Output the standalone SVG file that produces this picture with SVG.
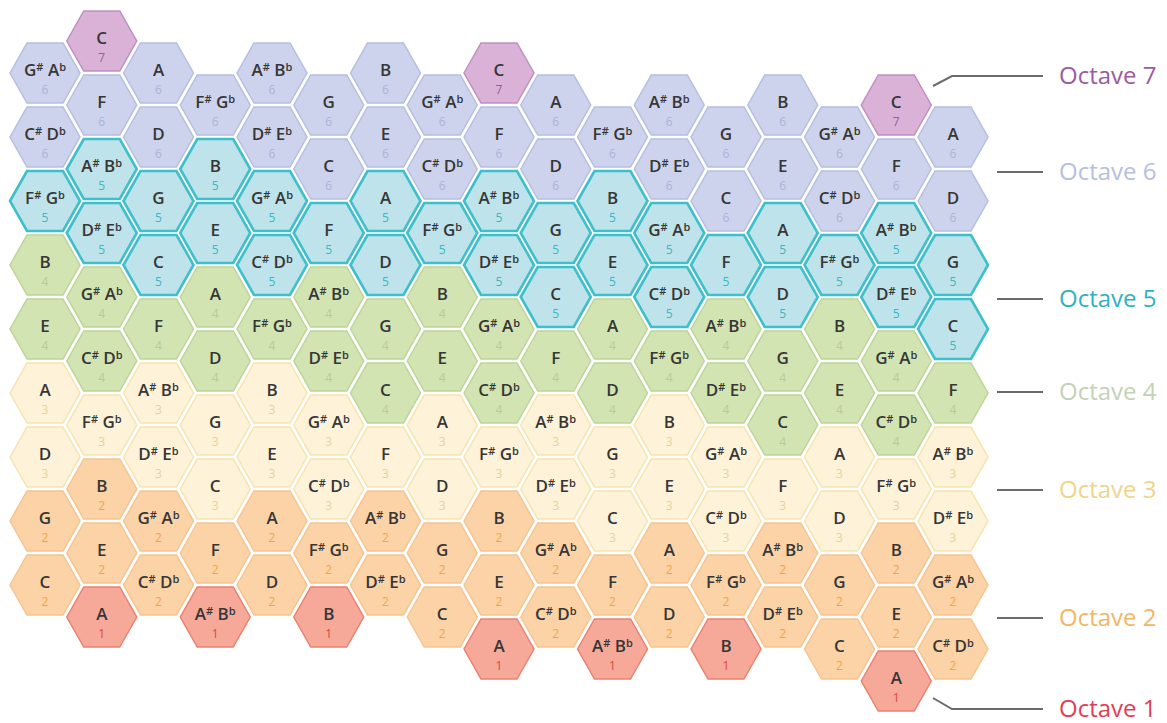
<svg xmlns="http://www.w3.org/2000/svg" width="1167" height="723" viewBox="0 0 1167 723">
<style>
.n{font-family:"Open Sans","Liberation Sans",sans-serif;font-weight:600;font-size:17px;fill:#363636;text-anchor:middle}
.s{font-size:11px;baseline-shift:5px}
.d{font-family:"Open Sans","Liberation Sans",sans-serif;font-weight:400;font-size:12px;text-anchor:middle}
use{stroke-width:1.5}
.o1 use{fill:#f6a999;stroke:#ec8170}.o1 .d{fill:#e0453f}
.o2 use{fill:#fcd3a7;stroke:#f6c48f}.o2 .d{fill:#f0a645}
.o3 use{fill:#fef3d9;stroke:#f7e3ae}.o3 .d{fill:#e6d29a}
.o4 use{fill:#d2e4b2;stroke:#bdd598}.o4 .d{fill:#b5cc98}
.o5 use{fill:#bee3ea;stroke:#3dbfcc;stroke-width:2.6}.o5 .d{fill:#3ab7c6}
.o6 use{fill:#cdd3ec;stroke:#b5bfe0}.o6 .d{fill:#a9b4dc}
.o7 use{fill:#dab2d8;stroke:#c08fc2}.o7 .d{fill:#9b5a9f}
.lg{font-family:"Open Sans","Liberation Sans",sans-serif;font-size:24px}
.ln{fill:none;stroke:#6b6b6b;stroke-width:2}
</style>
<defs><path id="hx" d="M-35,0L-18,-30L18,-30L35,0L18,30L-18,30Z"/></defs>
<rect width="1167" height="723" fill="#fff"/>
<g id="hexes">
<g id="c0r0" class="o2" transform="translate(45,585)"><use href="#hx"/><text class="n" y="3">C</text><text class="d" y="21">2</text></g>
<g id="c0r2" class="o2" transform="translate(45,521)"><use href="#hx"/><text class="n" y="3">G</text><text class="d" y="21">2</text></g>
<g id="c0r4" class="o3" transform="translate(45,457)"><use href="#hx"/><text class="n" y="3">D</text><text class="d" y="21">3</text></g>
<g id="c0r6" class="o3" transform="translate(45,393)"><use href="#hx"/><text class="n" y="3">A</text><text class="d" y="21">3</text></g>
<g id="c0r8" class="o4" transform="translate(45,329)"><use href="#hx"/><text class="n" y="3">E</text><text class="d" y="21">4</text></g>
<g id="c0r10" class="o4" transform="translate(45,265)"><use href="#hx"/><text class="n" y="3">B</text><text class="d" y="21">4</text></g>
<g id="c0r12" class="o5" transform="translate(45,201)"><use href="#hx"/><text class="n" y="3">F<tspan class="s">#</tspan> G<tspan class="s">b</tspan></text><text class="d" y="21">5</text></g>
<g id="c0r14" class="o6" transform="translate(45,137)"><use href="#hx"/><text class="n" y="3">C<tspan class="s">#</tspan> D<tspan class="s">b</tspan></text><text class="d" y="21">6</text></g>
<g id="c0r16" class="o6" transform="translate(45,73)"><use href="#hx"/><text class="n" y="3">G<tspan class="s">#</tspan> A<tspan class="s">b</tspan></text><text class="d" y="21">6</text></g>
<g id="c1rm1" class="o1" transform="translate(101.75,617)"><use href="#hx"/><text class="n" y="3">A</text><text class="d" y="21">1</text></g>
<g id="c1r1" class="o2" transform="translate(101.75,553)"><use href="#hx"/><text class="n" y="3">E</text><text class="d" y="21">2</text></g>
<g id="c1r3" class="o2" transform="translate(101.75,489)"><use href="#hx"/><text class="n" y="3">B</text><text class="d" y="21">2</text></g>
<g id="c1r5" class="o3" transform="translate(101.75,425)"><use href="#hx"/><text class="n" y="3">F<tspan class="s">#</tspan> G<tspan class="s">b</tspan></text><text class="d" y="21">3</text></g>
<g id="c1r7" class="o4" transform="translate(101.75,361)"><use href="#hx"/><text class="n" y="3">C<tspan class="s">#</tspan> D<tspan class="s">b</tspan></text><text class="d" y="21">4</text></g>
<g id="c1r9" class="o4" transform="translate(101.75,297)"><use href="#hx"/><text class="n" y="3">G<tspan class="s">#</tspan> A<tspan class="s">b</tspan></text><text class="d" y="21">4</text></g>
<g id="c1r11" class="o5" transform="translate(101.75,233)"><use href="#hx"/><text class="n" y="3">D<tspan class="s">#</tspan> E<tspan class="s">b</tspan></text><text class="d" y="21">5</text></g>
<g id="c1r13" class="o5" transform="translate(101.75,169)"><use href="#hx"/><text class="n" y="3">A<tspan class="s">#</tspan> B<tspan class="s">b</tspan></text><text class="d" y="21">5</text></g>
<g id="c1r15" class="o6" transform="translate(101.75,105)"><use href="#hx"/><text class="n" y="3">F</text><text class="d" y="21">6</text></g>
<g id="c1r17" class="o7" transform="translate(101.75,41)"><use href="#hx"/><text class="n" y="3">C</text><text class="d" y="21">7</text></g>
<g id="c2r0" class="o2" transform="translate(158.5,585)"><use href="#hx"/><text class="n" y="3">C<tspan class="s">#</tspan> D<tspan class="s">b</tspan></text><text class="d" y="21">2</text></g>
<g id="c2r2" class="o2" transform="translate(158.5,521)"><use href="#hx"/><text class="n" y="3">G<tspan class="s">#</tspan> A<tspan class="s">b</tspan></text><text class="d" y="21">2</text></g>
<g id="c2r4" class="o3" transform="translate(158.5,457)"><use href="#hx"/><text class="n" y="3">D<tspan class="s">#</tspan> E<tspan class="s">b</tspan></text><text class="d" y="21">3</text></g>
<g id="c2r6" class="o3" transform="translate(158.5,393)"><use href="#hx"/><text class="n" y="3">A<tspan class="s">#</tspan> B<tspan class="s">b</tspan></text><text class="d" y="21">3</text></g>
<g id="c2r8" class="o4" transform="translate(158.5,329)"><use href="#hx"/><text class="n" y="3">F</text><text class="d" y="21">4</text></g>
<g id="c2r10" class="o5" transform="translate(158.5,265)"><use href="#hx"/><text class="n" y="3">C</text><text class="d" y="21">5</text></g>
<g id="c2r12" class="o5" transform="translate(158.5,201)"><use href="#hx"/><text class="n" y="3">G</text><text class="d" y="21">5</text></g>
<g id="c2r14" class="o6" transform="translate(158.5,137)"><use href="#hx"/><text class="n" y="3">D</text><text class="d" y="21">6</text></g>
<g id="c2r16" class="o6" transform="translate(158.5,73)"><use href="#hx"/><text class="n" y="3">A</text><text class="d" y="21">6</text></g>
<g id="c3rm1" class="o1" transform="translate(215.25,617)"><use href="#hx"/><text class="n" y="3">A<tspan class="s">#</tspan> B<tspan class="s">b</tspan></text><text class="d" y="21">1</text></g>
<g id="c3r1" class="o2" transform="translate(215.25,553)"><use href="#hx"/><text class="n" y="3">F</text><text class="d" y="21">2</text></g>
<g id="c3r3" class="o3" transform="translate(215.25,489)"><use href="#hx"/><text class="n" y="3">C</text><text class="d" y="21">3</text></g>
<g id="c3r5" class="o3" transform="translate(215.25,425)"><use href="#hx"/><text class="n" y="3">G</text><text class="d" y="21">3</text></g>
<g id="c3r7" class="o4" transform="translate(215.25,361)"><use href="#hx"/><text class="n" y="3">D</text><text class="d" y="21">4</text></g>
<g id="c3r9" class="o4" transform="translate(215.25,297)"><use href="#hx"/><text class="n" y="3">A</text><text class="d" y="21">4</text></g>
<g id="c3r11" class="o5" transform="translate(215.25,233)"><use href="#hx"/><text class="n" y="3">E</text><text class="d" y="21">5</text></g>
<g id="c3r13" class="o5" transform="translate(215.25,169)"><use href="#hx"/><text class="n" y="3">B</text><text class="d" y="21">5</text></g>
<g id="c3r15" class="o6" transform="translate(215.25,105)"><use href="#hx"/><text class="n" y="3">F<tspan class="s">#</tspan> G<tspan class="s">b</tspan></text><text class="d" y="21">6</text></g>
<g id="c4r0" class="o2" transform="translate(272,585)"><use href="#hx"/><text class="n" y="3">D</text><text class="d" y="21">2</text></g>
<g id="c4r2" class="o2" transform="translate(272,521)"><use href="#hx"/><text class="n" y="3">A</text><text class="d" y="21">2</text></g>
<g id="c4r4" class="o3" transform="translate(272,457)"><use href="#hx"/><text class="n" y="3">E</text><text class="d" y="21">3</text></g>
<g id="c4r6" class="o3" transform="translate(272,393)"><use href="#hx"/><text class="n" y="3">B</text><text class="d" y="21">3</text></g>
<g id="c4r8" class="o4" transform="translate(272,329)"><use href="#hx"/><text class="n" y="3">F<tspan class="s">#</tspan> G<tspan class="s">b</tspan></text><text class="d" y="21">4</text></g>
<g id="c4r10" class="o5" transform="translate(272,265)"><use href="#hx"/><text class="n" y="3">C<tspan class="s">#</tspan> D<tspan class="s">b</tspan></text><text class="d" y="21">5</text></g>
<g id="c4r12" class="o5" transform="translate(272,201)"><use href="#hx"/><text class="n" y="3">G<tspan class="s">#</tspan> A<tspan class="s">b</tspan></text><text class="d" y="21">5</text></g>
<g id="c4r14" class="o6" transform="translate(272,137)"><use href="#hx"/><text class="n" y="3">D<tspan class="s">#</tspan> E<tspan class="s">b</tspan></text><text class="d" y="21">6</text></g>
<g id="c4r16" class="o6" transform="translate(272,73)"><use href="#hx"/><text class="n" y="3">A<tspan class="s">#</tspan> B<tspan class="s">b</tspan></text><text class="d" y="21">6</text></g>
<g id="c5rm1" class="o1" transform="translate(328.75,617)"><use href="#hx"/><text class="n" y="3">B</text><text class="d" y="21">1</text></g>
<g id="c5r1" class="o2" transform="translate(328.75,553)"><use href="#hx"/><text class="n" y="3">F<tspan class="s">#</tspan> G<tspan class="s">b</tspan></text><text class="d" y="21">2</text></g>
<g id="c5r3" class="o3" transform="translate(328.75,489)"><use href="#hx"/><text class="n" y="3">C<tspan class="s">#</tspan> D<tspan class="s">b</tspan></text><text class="d" y="21">3</text></g>
<g id="c5r5" class="o3" transform="translate(328.75,425)"><use href="#hx"/><text class="n" y="3">G<tspan class="s">#</tspan> A<tspan class="s">b</tspan></text><text class="d" y="21">3</text></g>
<g id="c5r7" class="o4" transform="translate(328.75,361)"><use href="#hx"/><text class="n" y="3">D<tspan class="s">#</tspan> E<tspan class="s">b</tspan></text><text class="d" y="21">4</text></g>
<g id="c5r9" class="o4" transform="translate(328.75,297)"><use href="#hx"/><text class="n" y="3">A<tspan class="s">#</tspan> B<tspan class="s">b</tspan></text><text class="d" y="21">4</text></g>
<g id="c5r11" class="o5" transform="translate(328.75,233)"><use href="#hx"/><text class="n" y="3">F</text><text class="d" y="21">5</text></g>
<g id="c5r13" class="o6" transform="translate(328.75,169)"><use href="#hx"/><text class="n" y="3">C</text><text class="d" y="21">6</text></g>
<g id="c5r15" class="o6" transform="translate(328.75,105)"><use href="#hx"/><text class="n" y="3">G</text><text class="d" y="21">6</text></g>
<g id="c6r0" class="o2" transform="translate(385.5,585)"><use href="#hx"/><text class="n" y="3">D<tspan class="s">#</tspan> E<tspan class="s">b</tspan></text><text class="d" y="21">2</text></g>
<g id="c6r2" class="o2" transform="translate(385.5,521)"><use href="#hx"/><text class="n" y="3">A<tspan class="s">#</tspan> B<tspan class="s">b</tspan></text><text class="d" y="21">2</text></g>
<g id="c6r4" class="o3" transform="translate(385.5,457)"><use href="#hx"/><text class="n" y="3">F</text><text class="d" y="21">3</text></g>
<g id="c6r6" class="o4" transform="translate(385.5,393)"><use href="#hx"/><text class="n" y="3">C</text><text class="d" y="21">4</text></g>
<g id="c6r8" class="o4" transform="translate(385.5,329)"><use href="#hx"/><text class="n" y="3">G</text><text class="d" y="21">4</text></g>
<g id="c6r10" class="o5" transform="translate(385.5,265)"><use href="#hx"/><text class="n" y="3">D</text><text class="d" y="21">5</text></g>
<g id="c6r12" class="o5" transform="translate(385.5,201)"><use href="#hx"/><text class="n" y="3">A</text><text class="d" y="21">5</text></g>
<g id="c6r14" class="o6" transform="translate(385.5,137)"><use href="#hx"/><text class="n" y="3">E</text><text class="d" y="21">6</text></g>
<g id="c6r16" class="o6" transform="translate(385.5,73)"><use href="#hx"/><text class="n" y="3">B</text><text class="d" y="21">6</text></g>
<g id="c7rm1" class="o2" transform="translate(442.25,617)"><use href="#hx"/><text class="n" y="3">C</text><text class="d" y="21">2</text></g>
<g id="c7r1" class="o2" transform="translate(442.25,553)"><use href="#hx"/><text class="n" y="3">G</text><text class="d" y="21">2</text></g>
<g id="c7r3" class="o3" transform="translate(442.25,489)"><use href="#hx"/><text class="n" y="3">D</text><text class="d" y="21">3</text></g>
<g id="c7r5" class="o3" transform="translate(442.25,425)"><use href="#hx"/><text class="n" y="3">A</text><text class="d" y="21">3</text></g>
<g id="c7r7" class="o4" transform="translate(442.25,361)"><use href="#hx"/><text class="n" y="3">E</text><text class="d" y="21">4</text></g>
<g id="c7r9" class="o4" transform="translate(442.25,297)"><use href="#hx"/><text class="n" y="3">B</text><text class="d" y="21">4</text></g>
<g id="c7r11" class="o5" transform="translate(442.25,233)"><use href="#hx"/><text class="n" y="3">F<tspan class="s">#</tspan> G<tspan class="s">b</tspan></text><text class="d" y="21">5</text></g>
<g id="c7r13" class="o6" transform="translate(442.25,169)"><use href="#hx"/><text class="n" y="3">C<tspan class="s">#</tspan> D<tspan class="s">b</tspan></text><text class="d" y="21">6</text></g>
<g id="c7r15" class="o6" transform="translate(442.25,105)"><use href="#hx"/><text class="n" y="3">G<tspan class="s">#</tspan> A<tspan class="s">b</tspan></text><text class="d" y="21">6</text></g>
<g id="c8rm2" class="o1" transform="translate(499,649)"><use href="#hx"/><text class="n" y="3">A</text><text class="d" y="21">1</text></g>
<g id="c8r0" class="o2" transform="translate(499,585)"><use href="#hx"/><text class="n" y="3">E</text><text class="d" y="21">2</text></g>
<g id="c8r2" class="o2" transform="translate(499,521)"><use href="#hx"/><text class="n" y="3">B</text><text class="d" y="21">2</text></g>
<g id="c8r4" class="o3" transform="translate(499,457)"><use href="#hx"/><text class="n" y="3">F<tspan class="s">#</tspan> G<tspan class="s">b</tspan></text><text class="d" y="21">3</text></g>
<g id="c8r6" class="o4" transform="translate(499,393)"><use href="#hx"/><text class="n" y="3">C<tspan class="s">#</tspan> D<tspan class="s">b</tspan></text><text class="d" y="21">4</text></g>
<g id="c8r8" class="o4" transform="translate(499,329)"><use href="#hx"/><text class="n" y="3">G<tspan class="s">#</tspan> A<tspan class="s">b</tspan></text><text class="d" y="21">4</text></g>
<g id="c8r10" class="o5" transform="translate(499,265)"><use href="#hx"/><text class="n" y="3">D<tspan class="s">#</tspan> E<tspan class="s">b</tspan></text><text class="d" y="21">5</text></g>
<g id="c8r12" class="o5" transform="translate(499,201)"><use href="#hx"/><text class="n" y="3">A<tspan class="s">#</tspan> B<tspan class="s">b</tspan></text><text class="d" y="21">5</text></g>
<g id="c8r14" class="o6" transform="translate(499,137)"><use href="#hx"/><text class="n" y="3">F</text><text class="d" y="21">6</text></g>
<g id="c8r16" class="o7" transform="translate(499,73)"><use href="#hx"/><text class="n" y="3">C</text><text class="d" y="21">7</text></g>
<g id="c9rm1" class="o2" transform="translate(555.75,617)"><use href="#hx"/><text class="n" y="3">C<tspan class="s">#</tspan> D<tspan class="s">b</tspan></text><text class="d" y="21">2</text></g>
<g id="c9r1" class="o2" transform="translate(555.75,553)"><use href="#hx"/><text class="n" y="3">G<tspan class="s">#</tspan> A<tspan class="s">b</tspan></text><text class="d" y="21">2</text></g>
<g id="c9r3" class="o3" transform="translate(555.75,489)"><use href="#hx"/><text class="n" y="3">D<tspan class="s">#</tspan> E<tspan class="s">b</tspan></text><text class="d" y="21">3</text></g>
<g id="c9r5" class="o3" transform="translate(555.75,425)"><use href="#hx"/><text class="n" y="3">A<tspan class="s">#</tspan> B<tspan class="s">b</tspan></text><text class="d" y="21">3</text></g>
<g id="c9r7" class="o4" transform="translate(555.75,361)"><use href="#hx"/><text class="n" y="3">F</text><text class="d" y="21">4</text></g>
<g id="c9r9" class="o5" transform="translate(555.75,297)"><use href="#hx"/><text class="n" y="3">C</text><text class="d" y="21">5</text></g>
<g id="c9r11" class="o5" transform="translate(555.75,233)"><use href="#hx"/><text class="n" y="3">G</text><text class="d" y="21">5</text></g>
<g id="c9r13" class="o6" transform="translate(555.75,169)"><use href="#hx"/><text class="n" y="3">D</text><text class="d" y="21">6</text></g>
<g id="c9r15" class="o6" transform="translate(555.75,105)"><use href="#hx"/><text class="n" y="3">A</text><text class="d" y="21">6</text></g>
<g id="c10rm2" class="o1" transform="translate(612.5,649)"><use href="#hx"/><text class="n" y="3">A<tspan class="s">#</tspan> B<tspan class="s">b</tspan></text><text class="d" y="21">1</text></g>
<g id="c10r0" class="o2" transform="translate(612.5,585)"><use href="#hx"/><text class="n" y="3">F</text><text class="d" y="21">2</text></g>
<g id="c10r2" class="o3" transform="translate(612.5,521)"><use href="#hx"/><text class="n" y="3">C</text><text class="d" y="21">3</text></g>
<g id="c10r4" class="o3" transform="translate(612.5,457)"><use href="#hx"/><text class="n" y="3">G</text><text class="d" y="21">3</text></g>
<g id="c10r6" class="o4" transform="translate(612.5,393)"><use href="#hx"/><text class="n" y="3">D</text><text class="d" y="21">4</text></g>
<g id="c10r8" class="o4" transform="translate(612.5,329)"><use href="#hx"/><text class="n" y="3">A</text><text class="d" y="21">4</text></g>
<g id="c10r10" class="o5" transform="translate(612.5,265)"><use href="#hx"/><text class="n" y="3">E</text><text class="d" y="21">5</text></g>
<g id="c10r12" class="o5" transform="translate(612.5,201)"><use href="#hx"/><text class="n" y="3">B</text><text class="d" y="21">5</text></g>
<g id="c10r14" class="o6" transform="translate(612.5,137)"><use href="#hx"/><text class="n" y="3">F<tspan class="s">#</tspan> G<tspan class="s">b</tspan></text><text class="d" y="21">6</text></g>
<g id="c11rm1" class="o2" transform="translate(669.25,617)"><use href="#hx"/><text class="n" y="3">D</text><text class="d" y="21">2</text></g>
<g id="c11r1" class="o2" transform="translate(669.25,553)"><use href="#hx"/><text class="n" y="3">A</text><text class="d" y="21">2</text></g>
<g id="c11r3" class="o3" transform="translate(669.25,489)"><use href="#hx"/><text class="n" y="3">E</text><text class="d" y="21">3</text></g>
<g id="c11r5" class="o3" transform="translate(669.25,425)"><use href="#hx"/><text class="n" y="3">B</text><text class="d" y="21">3</text></g>
<g id="c11r7" class="o4" transform="translate(669.25,361)"><use href="#hx"/><text class="n" y="3">F<tspan class="s">#</tspan> G<tspan class="s">b</tspan></text><text class="d" y="21">4</text></g>
<g id="c11r9" class="o5" transform="translate(669.25,297)"><use href="#hx"/><text class="n" y="3">C<tspan class="s">#</tspan> D<tspan class="s">b</tspan></text><text class="d" y="21">5</text></g>
<g id="c11r11" class="o5" transform="translate(669.25,233)"><use href="#hx"/><text class="n" y="3">G<tspan class="s">#</tspan> A<tspan class="s">b</tspan></text><text class="d" y="21">5</text></g>
<g id="c11r13" class="o6" transform="translate(669.25,169)"><use href="#hx"/><text class="n" y="3">D<tspan class="s">#</tspan> E<tspan class="s">b</tspan></text><text class="d" y="21">6</text></g>
<g id="c11r15" class="o6" transform="translate(669.25,105)"><use href="#hx"/><text class="n" y="3">A<tspan class="s">#</tspan> B<tspan class="s">b</tspan></text><text class="d" y="21">6</text></g>
<g id="c12rm2" class="o1" transform="translate(726,649)"><use href="#hx"/><text class="n" y="3">B</text><text class="d" y="21">1</text></g>
<g id="c12r0" class="o2" transform="translate(726,585)"><use href="#hx"/><text class="n" y="3">F<tspan class="s">#</tspan> G<tspan class="s">b</tspan></text><text class="d" y="21">2</text></g>
<g id="c12r2" class="o3" transform="translate(726,521)"><use href="#hx"/><text class="n" y="3">C<tspan class="s">#</tspan> D<tspan class="s">b</tspan></text><text class="d" y="21">3</text></g>
<g id="c12r4" class="o3" transform="translate(726,457)"><use href="#hx"/><text class="n" y="3">G<tspan class="s">#</tspan> A<tspan class="s">b</tspan></text><text class="d" y="21">3</text></g>
<g id="c12r6" class="o4" transform="translate(726,393)"><use href="#hx"/><text class="n" y="3">D<tspan class="s">#</tspan> E<tspan class="s">b</tspan></text><text class="d" y="21">4</text></g>
<g id="c12r8" class="o4" transform="translate(726,329)"><use href="#hx"/><text class="n" y="3">A<tspan class="s">#</tspan> B<tspan class="s">b</tspan></text><text class="d" y="21">4</text></g>
<g id="c12r10" class="o5" transform="translate(726,265)"><use href="#hx"/><text class="n" y="3">F</text><text class="d" y="21">5</text></g>
<g id="c12r12" class="o6" transform="translate(726,201)"><use href="#hx"/><text class="n" y="3">C</text><text class="d" y="21">6</text></g>
<g id="c12r14" class="o6" transform="translate(726,137)"><use href="#hx"/><text class="n" y="3">G</text><text class="d" y="21">6</text></g>
<g id="c13rm1" class="o2" transform="translate(782.75,617)"><use href="#hx"/><text class="n" y="3">D<tspan class="s">#</tspan> E<tspan class="s">b</tspan></text><text class="d" y="21">2</text></g>
<g id="c13r1" class="o2" transform="translate(782.75,553)"><use href="#hx"/><text class="n" y="3">A<tspan class="s">#</tspan> B<tspan class="s">b</tspan></text><text class="d" y="21">2</text></g>
<g id="c13r3" class="o3" transform="translate(782.75,489)"><use href="#hx"/><text class="n" y="3">F</text><text class="d" y="21">3</text></g>
<g id="c13r5" class="o4" transform="translate(782.75,425)"><use href="#hx"/><text class="n" y="3">C</text><text class="d" y="21">4</text></g>
<g id="c13r7" class="o4" transform="translate(782.75,361)"><use href="#hx"/><text class="n" y="3">G</text><text class="d" y="21">4</text></g>
<g id="c13r9" class="o5" transform="translate(782.75,297)"><use href="#hx"/><text class="n" y="3">D</text><text class="d" y="21">5</text></g>
<g id="c13r11" class="o5" transform="translate(782.75,233)"><use href="#hx"/><text class="n" y="3">A</text><text class="d" y="21">5</text></g>
<g id="c13r13" class="o6" transform="translate(782.75,169)"><use href="#hx"/><text class="n" y="3">E</text><text class="d" y="21">6</text></g>
<g id="c13r15" class="o6" transform="translate(782.75,105)"><use href="#hx"/><text class="n" y="3">B</text><text class="d" y="21">6</text></g>
<g id="c14rm2" class="o2" transform="translate(839.5,649)"><use href="#hx"/><text class="n" y="3">C</text><text class="d" y="21">2</text></g>
<g id="c14r0" class="o2" transform="translate(839.5,585)"><use href="#hx"/><text class="n" y="3">G</text><text class="d" y="21">2</text></g>
<g id="c14r2" class="o3" transform="translate(839.5,521)"><use href="#hx"/><text class="n" y="3">D</text><text class="d" y="21">3</text></g>
<g id="c14r4" class="o3" transform="translate(839.5,457)"><use href="#hx"/><text class="n" y="3">A</text><text class="d" y="21">3</text></g>
<g id="c14r6" class="o4" transform="translate(839.5,393)"><use href="#hx"/><text class="n" y="3">E</text><text class="d" y="21">4</text></g>
<g id="c14r8" class="o4" transform="translate(839.5,329)"><use href="#hx"/><text class="n" y="3">B</text><text class="d" y="21">4</text></g>
<g id="c14r10" class="o5" transform="translate(839.5,265)"><use href="#hx"/><text class="n" y="3">F<tspan class="s">#</tspan> G<tspan class="s">b</tspan></text><text class="d" y="21">5</text></g>
<g id="c14r12" class="o6" transform="translate(839.5,201)"><use href="#hx"/><text class="n" y="3">C<tspan class="s">#</tspan> D<tspan class="s">b</tspan></text><text class="d" y="21">6</text></g>
<g id="c14r14" class="o6" transform="translate(839.5,137)"><use href="#hx"/><text class="n" y="3">G<tspan class="s">#</tspan> A<tspan class="s">b</tspan></text><text class="d" y="21">6</text></g>
<g id="c15rm3" class="o1" transform="translate(896.25,681)"><use href="#hx"/><text class="n" y="3">A</text><text class="d" y="21">1</text></g>
<g id="c15rm1" class="o2" transform="translate(896.25,617)"><use href="#hx"/><text class="n" y="3">E</text><text class="d" y="21">2</text></g>
<g id="c15r1" class="o2" transform="translate(896.25,553)"><use href="#hx"/><text class="n" y="3">B</text><text class="d" y="21">2</text></g>
<g id="c15r3" class="o3" transform="translate(896.25,489)"><use href="#hx"/><text class="n" y="3">F<tspan class="s">#</tspan> G<tspan class="s">b</tspan></text><text class="d" y="21">3</text></g>
<g id="c15r5" class="o4" transform="translate(896.25,425)"><use href="#hx"/><text class="n" y="3">C<tspan class="s">#</tspan> D<tspan class="s">b</tspan></text><text class="d" y="21">4</text></g>
<g id="c15r7" class="o4" transform="translate(896.25,361)"><use href="#hx"/><text class="n" y="3">G<tspan class="s">#</tspan> A<tspan class="s">b</tspan></text><text class="d" y="21">4</text></g>
<g id="c15r9" class="o5" transform="translate(896.25,297)"><use href="#hx"/><text class="n" y="3">D<tspan class="s">#</tspan> E<tspan class="s">b</tspan></text><text class="d" y="21">5</text></g>
<g id="c15r11" class="o5" transform="translate(896.25,233)"><use href="#hx"/><text class="n" y="3">A<tspan class="s">#</tspan> B<tspan class="s">b</tspan></text><text class="d" y="21">5</text></g>
<g id="c15r13" class="o6" transform="translate(896.25,169)"><use href="#hx"/><text class="n" y="3">F</text><text class="d" y="21">6</text></g>
<g id="c15r15" class="o7" transform="translate(896.25,105)"><use href="#hx"/><text class="n" y="3">C</text><text class="d" y="21">7</text></g>
<g id="c16rm2" class="o2" transform="translate(953,649)"><use href="#hx"/><text class="n" y="3">C<tspan class="s">#</tspan> D<tspan class="s">b</tspan></text><text class="d" y="21">2</text></g>
<g id="c16r0" class="o2" transform="translate(953,585)"><use href="#hx"/><text class="n" y="3">G<tspan class="s">#</tspan> A<tspan class="s">b</tspan></text><text class="d" y="21">2</text></g>
<g id="c16r2" class="o3" transform="translate(953,521)"><use href="#hx"/><text class="n" y="3">D<tspan class="s">#</tspan> E<tspan class="s">b</tspan></text><text class="d" y="21">3</text></g>
<g id="c16r4" class="o3" transform="translate(953,457)"><use href="#hx"/><text class="n" y="3">A<tspan class="s">#</tspan> B<tspan class="s">b</tspan></text><text class="d" y="21">3</text></g>
<g id="c16r6" class="o4" transform="translate(953,393)"><use href="#hx"/><text class="n" y="3">F</text><text class="d" y="21">4</text></g>
<g id="c16r8" class="o5" transform="translate(953,329)"><use href="#hx"/><text class="n" y="3">C</text><text class="d" y="21">5</text></g>
<g id="c16r10" class="o5" transform="translate(953,265)"><use href="#hx"/><text class="n" y="3">G</text><text class="d" y="21">5</text></g>
<g id="c16r12" class="o6" transform="translate(953,201)"><use href="#hx"/><text class="n" y="3">D</text><text class="d" y="21">6</text></g>
<g id="c16r14" class="o6" transform="translate(953,137)"><use href="#hx"/><text class="n" y="3">A</text><text class="d" y="21">6</text></g>
</g>
<g id="connectors">
<polyline class="ln" points="933,86 952,76 1043,76"/>
<line class="ln" x1="997" y1="172" x2="1043" y2="172"/>
<line class="ln" x1="997" y1="299" x2="1043" y2="299"/>
<line class="ln" x1="997" y1="392" x2="1043" y2="392"/>
<line class="ln" x1="997" y1="490" x2="1043" y2="490"/>
<line class="ln" x1="997" y1="618" x2="1043" y2="618"/>
<polyline class="ln" points="933,698 952,709 1043,709"/>
</g>
<g id="legend">
<text id="lg7" class="lg" x="1059" y="84" fill="#9c5aa0">Octave 7</text>
<text id="lg6" class="lg" x="1059" y="180" fill="#b6bfe0">Octave 6</text>
<text id="lg5" class="lg" x="1059" y="307" fill="#2db3c4">Octave 5</text>
<text id="lg4" class="lg" x="1059" y="400" fill="#c3d2b6">Octave 4</text>
<text id="lg3" class="lg" x="1059" y="498" fill="#efd48c">Octave 3</text>
<text id="lg2" class="lg" x="1059" y="626" fill="#f4b666">Octave 2</text>
<text id="lg1" class="lg" x="1059" y="717" fill="#df3f55">Octave 1</text>
</g>
</svg>
